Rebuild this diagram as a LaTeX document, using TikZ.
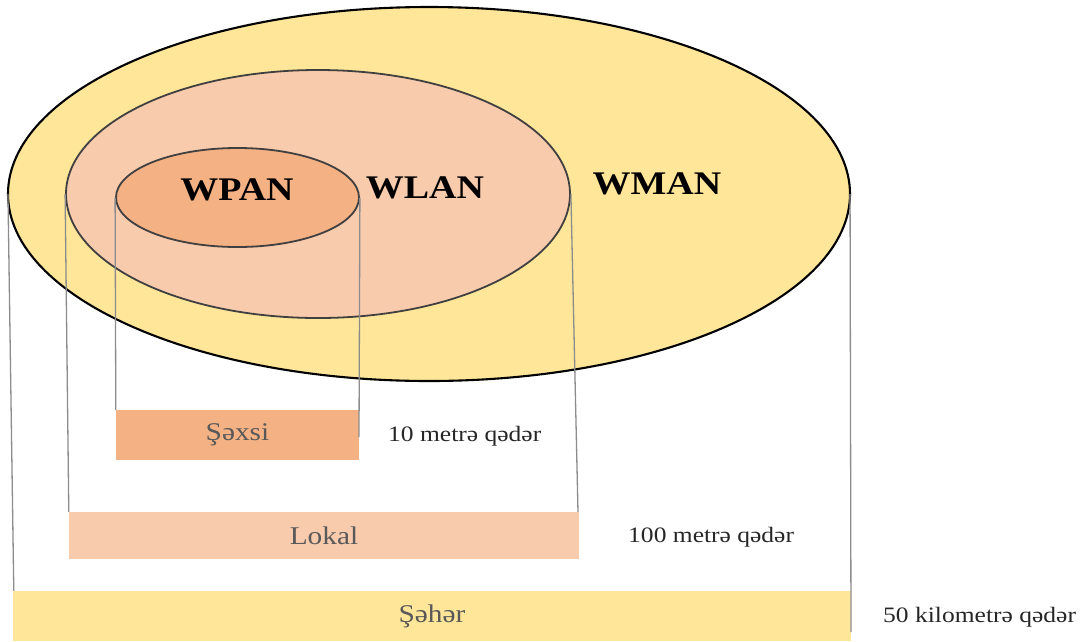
\documentclass[tikz,border=0pt]{standalone}
\usepackage{fontspec}
\setmainfont{Liberation Serif}
\usetikzlibrary{shapes.geometric}
\definecolor{cityfill}{HTML}{FFE699}
\definecolor{localfill}{HTML}{F8CBAD}
\definecolor{personalfill}{HTML}{F4B183}
\definecolor{guide}{HTML}{8C8C8C}
\definecolor{barlabel}{HTML}{595959}
\definecolor{rangelabel}{HTML}{262626}
\tikzset{
  zone/.style={ellipse, inner sep=0pt, line width=1.8pt},
  bar/.style={rectangle, inner sep=0pt, draw=none},
  netname/.style={font=\fontsize{33}{36}\selectfont\bfseries, xscale=1.15, inner sep=0pt},
  barname/.style={font=\fontsize{25.5}{28}\selectfont, text=barlabel, xscale=1.15, inner sep=0pt},
  rangetext/.style={font=\fontsize{22}{25}\selectfont, text=rangelabel, xscale=1.16, inner sep=0pt, anchor=west},
  guideline/.style={draw=guide, line width=1.3pt}
}
\begin{document}
\begin{tikzpicture}[x=1pt, y=-1pt]
\useasboundingbox (0,0) rectangle (1088,641);
% nested coverage zones
\node[zone, draw=black, line width=2.1pt, fill=cityfill, minimum width=842pt, minimum height=374pt] (man) at (429,194) {};
\node[zone, draw=black!75, fill=localfill, minimum width=504pt, minimum height=248pt] (lan) at (318,194) {};
\node[zone, draw=black!75, fill=personalfill, minimum width=243pt, minimum height=99pt] (pan) at (237.5,197.5) {};
\node[netname] (tpan) at (237,190) {WPAN};
\node[netname] (tlan) at (425,188) {WLAN};
\node[netname] (tman) at (657,184) {WMAN};
% range bars
\node[bar, fill=personalfill, minimum width=243pt, minimum height=50pt] (sexsi) at (237.5,435) {};
\node[bar, fill=localfill, minimum width=510pt, minimum height=47pt] (lokal) at (324,535.5) {};
\node[bar, fill=cityfill, minimum width=838pt, minimum height=50pt] (seher) at (432,616) {};
\node[barname] at (sexsi.center) {Şəxsi};
\node[barname] at (lokal.center) {Lokal};
\node[barname] at (seher.center) {Şəhər};
\node[rangetext] (r1) at (388,436) {10 metrə qədər};
\node[rangetext] (r2) at (628,537) {100 metrə qədər};
\node[rangetext] (r3) at (883,617) {50 kilometrə qədər};
% guide lines from zone edges down to the bars
\coordinate (pe) at (359,437);
\coordinate (le) at (578,512);
\coordinate (me) at (851,632);
\draw[guideline] (pan.west) -- (sexsi.north west);
\draw[guideline] (pan.east) -- (pe);
\draw[guideline] (lan.west) -- (lokal.north west);
\draw[guideline] (lan.east) -- (le);
\draw[guideline] ([xshift=1pt]man.west) -- ([xshift=1pt]seher.north west);
\draw[guideline] ([xshift=-1pt]man.east) -- (me);
\end{tikzpicture}
\end{document}
